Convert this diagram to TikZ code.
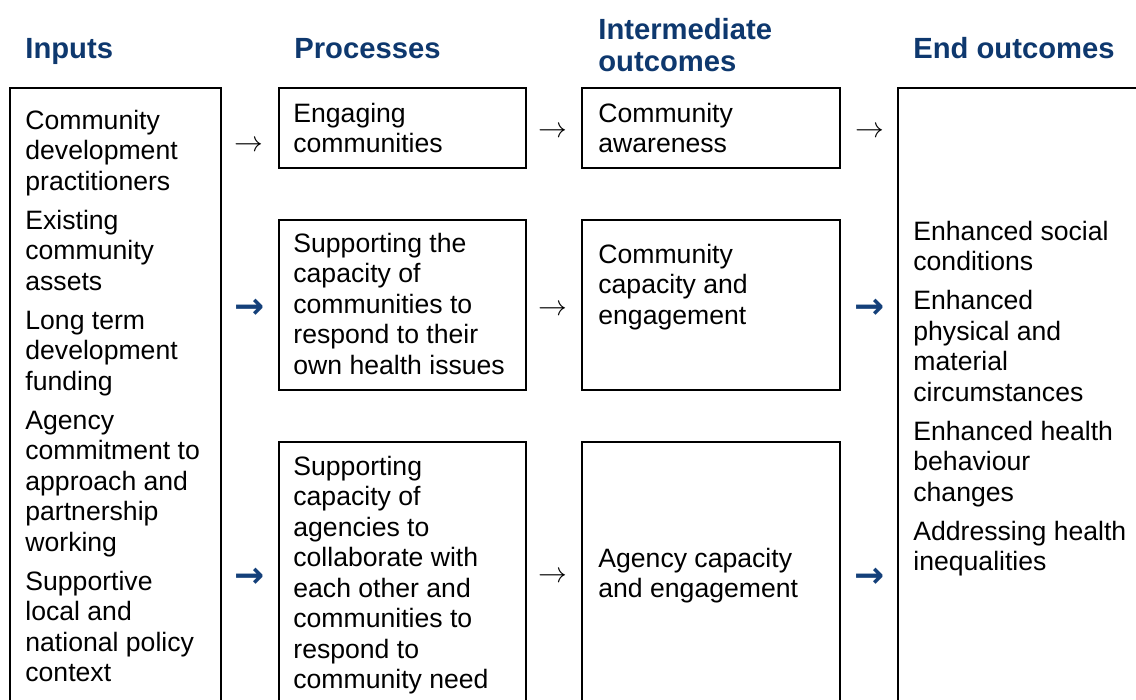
\documentclass[tikz,border=0pt]{standalone}
\usepackage{fontspec}
\setmainfont{Liberation Sans}
\newfontfamily\arrfont{DejaVu Sans}
\usetikzlibrary{positioning}
\definecolor{headblue}{RGB}{14,56,110}
\definecolor{arrblue}{RGB}{20,64,122}
\tikzstyle{box}=[draw=black, line width=1pt]
\tikzstyle{txt}=[anchor=north west, align=left, inner sep=0pt, font=\fontsize{13.3}{15.25}\selectfont, execute at begin node=\strut]
\tikzstyle{head}=[anchor=north west, align=left, inner sep=0pt, text=headblue, font=\fontsize{14.6}{16}\selectfont\bfseries, execute at begin node=\strut]
\tikzstyle{thinarr}=[inner sep=0pt, font=\fontsize{13.5}{13.5}\selectfont]
\tikzstyle{bluearr}=[inner sep=0pt, text=arrblue, font=\arrfont\fontsize{18}{18}\selectfont\bfseries]

\begin{document}
\begin{tikzpicture}[x=0.5pt, y=-0.5pt]
				\useasboundingbox (0,0) rectangle (1136,700);
				\clip (0,0) rectangle (1136,700);
				\fill[white] (0,0) rectangle (1136,700);

				\node[head] (hin) at (25,35.6) {Inputs};
				\node[head] (hpr) at (294,35.6) {Processes};
				\node[head] (hint) at (598,18.1) {Intermediate\\outcomes};
				\node[head] (hend) at (913,35.6) {End outcomes};

				\draw[box] (10,88) rectangle (221,720);
				\draw[box] (279,88) rectangle (526,168);
				\draw[box] (279,220) rectangle (526,390);
				\draw[box] (279,442) rectangle (526,720);
				\draw[box] (582,88) rectangle (840,168);
				\draw[box] (582,220) rectangle (840,390);
				\draw[box] (582,442) rectangle (840,720);
				\draw[box] (898,88) rectangle (1150,720);

				\node[txt] (inputs) at (25,109.6) {Community\\development\\practitioners\\[4.25pt]
					Existing\\community\\assets\\[4.25pt]
					Long term\\development\\funding\\[4.25pt]
					Agency\\commitment to\\approach and\\partnership\\working\\[4.25pt]
					Supportive\\local and\\national policy\\context};

				\node[txt] (engage) at (293,102.6) {Engaging\\communities};
				\node[txt] (suppcom) at (293,232.6) {Supporting the\\capacity of\\communities to\\respond to their\\own health issues};
				\node[txt] (suppag) at (293,455.6) {Supporting\\capacity of\\agencies to\\collaborate with\\each other and\\communities to\\respond to\\community need};

				\node[txt] (aware) at (598,102.6) {Community\\awareness};
				\node[txt] (comcap) at (598,243.6) {Community\\capacity and\\engagement};
				\node[txt] (agcap) at (598,547.6) {Agency capacity\\and engagement};

				\node[txt] (ends) at (913,220.6) {Enhanced social\\conditions\\[4.25pt]
					Enhanced\\physical and\\material\\circumstances\\[4.25pt]
					Enhanced health\\behaviour\\changes\\[4.25pt]
					Addressing health\\inequalities};

				\node[thinarr] (a1) at (249,146) {$\rightarrow$};
				\node[thinarr] (a2) at (553,132) {$\rightarrow$};
				\node[thinarr] (a3) at (870,132) {$\rightarrow$};
				\node[bluearr] (a4) at (250,309) {→};
				\node[thinarr] (a5) at (553,310) {$\rightarrow$};
				\node[bluearr] (a6) at (870,309) {→};
				\node[bluearr] (a7) at (250,578) {→};
				\node[thinarr] (a8) at (553,577) {$\rightarrow$};
				\node[bluearr] (a9) at (870,578) {→};
\end{tikzpicture}
\end{document}
